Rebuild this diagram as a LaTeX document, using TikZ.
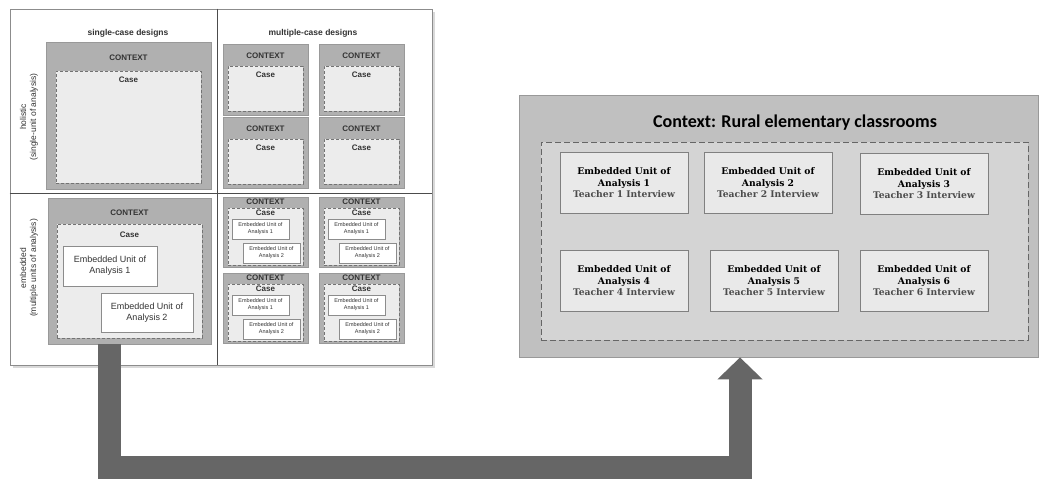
\documentclass[tikz,border=0pt]{standalone}
\usepackage{fontspec}
\setmainfont{Liberation Sans}
\newfontfamily\unitfont{DejaVu Serif}
\newfontfamily\titlefont{Carlito}
\usetikzlibrary{positioning,fit,shadows,arrows.meta}

\definecolor{ctxgray}{RGB}{176,176,176}
\definecolor{casegray}{RGB}{236,236,236}
\definecolor{outergray}{RGB}{192,192,192}
\definecolor{innergray}{RGB}{212,212,212}
\definecolor{unitgray}{RGB}{233,233,233}
\definecolor{arrowgray}{RGB}{102,102,102}

\tikzset{
  frame/.style={draw=black!45, fill=white, line width=0.8pt, inner sep=0pt,
    drop shadow={shadow xshift=3pt, shadow yshift=-3pt, opacity=0.3}},
  divider/.style={draw=black!70, line width=1pt},
  ctxbox/.style={draw=black!40, fill=ctxgray, line width=0.7pt, inner sep=0pt},
  casebox/.style={draw=black!55, fill=casegray, densely dashed, line width=0.7pt, inner sep=0pt},
  embbox/.style={draw=black!45, fill=white, line width=0.6pt, inner sep=0pt},
  headlbl/.style={font=\fontsize{8.5}{10}\selectfont\bfseries, text=black!80},
  ctxlbl/.style={font=\fontsize{8}{9}\selectfont\bfseries, text=black!80, inner sep=0pt},
  sidelbl/.style={font=\fontsize{8.5}{10}\selectfont, text=black!80, align=center, rotate=90},
  emblbl/.style={font=\fontsize{9}{11}\selectfont, text=black!80, align=center},
  tinylbl/.style={font=\fontsize{5.5}{7}\selectfont, text=black!80, align=center},
  rightctx/.style={draw=black!40, fill=outergray, line width=0.8pt, inner sep=0pt},
  rightcase/.style={draw=black!60, fill=innergray, dashed, dash pattern=on 6pt off 3pt, line width=1pt, inner sep=0pt},
  unit/.style={draw=black!50, fill=unitgray, line width=0.8pt, minimum width=128pt, minimum height=61pt,
    align=center, font=\unitfont\fontsize{9.2}{11.5}\selectfont\bfseries},
  bigarrow/.style={draw=arrowgray, line width=23pt, -{Triangle[width=44pt,length=22pt]}}
}

\begin{document}
\begin{tikzpicture}[x=1pt,y=-1pt]
  \useasboundingbox (0,0) rectangle (1040,479);

  %% Left: matrix of case study designs
  \node[frame, fit={(10,9)(432,365)}] (matrix) {};
  \coordinate (vsplit) at (217,193);
  \draw[divider] (matrix.north -| vsplit) -- (matrix.south -| vsplit);
  \draw[divider] (matrix.west |- vsplit) -- (matrix.east |- vsplit);
  \node[headlbl] (singlehd) at (128,33) {single-case designs};
  \node[headlbl] (multihd) at (313,33) {multiple-case designs};
  \node[sidelbl] (holist) at (29,117) {holistic\\(single-unit of analysis)};
  \node[sidelbl] (embed) at (29,268) {embedded\\(multiple units of analysis)};

  %% single-case, holistic
  \node[ctxbox, fit={(46,42)(211,189)}] (shctx) {};
  \node[ctxlbl, below=13pt of shctx.north] {CONTEXT};
  \node[casebox, fit={(56,71)(201,183)}] (shcase) {};
  \node[ctxlbl, below=6pt of shcase.north] {Case};

  %% single-case, embedded
  \node[ctxbox, fit={(48,198)(211,344)}] (sectx) {};
  \node[ctxlbl, below=12pt of sectx.north] {CONTEXT};
  \node[casebox, fit={(57,224)(202,338)}] (secase) {};
  \node[ctxlbl, below=8pt of secase.north] {Case};
  \node[embbox, fit={(63,246)(157,286)}] (seunita) {};
  \node[emblbl] at (seunita) {Embedded Unit of\\Analysis 1};
  \node[embbox, fit={(101,293)(193,332)}] (seunitb) {};
  \node[emblbl] at (seunitb) {Embedded Unit of\\Analysis 2};

  %% multiple-case, holistic
  \foreach \i/\x/\y in {1/223/44, 2/319/44, 3/223/117, 4/319/117}{
    \node[ctxbox, fit={(\x,\y)(\x+85,\y+71)}] (mhctx\i) {};
    \node[ctxlbl, below=9pt of mhctx\i.north] {CONTEXT};
    \node[casebox, fit={(\x+5,\y+22)(\x+80,\y+67)}] (mhcase\i) {};
    \node[ctxlbl, below=6pt of mhcase\i.north] {Case};
  }

  %% multiple-case, embedded
  \foreach \i/\x/\y in {1/223/197, 2/319/197, 3/223/273, 4/319/273}{
    \node[ctxbox, fit={(\x,\y)(\x+85,\y+70)}] (mectx\i) {};
    \node[ctxlbl, below=2pt of mectx\i.north] {CONTEXT};
    \node[casebox, fit={(\x+5,\y+11)(\x+80,\y+68)}] (mecase\i) {};
    \node[ctxlbl, below=2pt of mecase\i.north] {Case};
    \node[embbox, fit={(\x+9,\y+22)(\x+66,\y+42)}] (meunita\i) {};
    \node[tinylbl] at (meunita\i) {Embedded Unit of\\Analysis 1};
    \node[embbox, fit={(\x+20,\y+46)(\x+77,\y+66)}] (meunitb\i) {};
    \node[tinylbl] at (meunitb\i) {Embedded Unit of\\Analysis 2};
  }

  %% Right: the study itself
  \node[rightctx, fit={(519,95)(1038,357)}] (ctxr) {};
  \node[font=\titlefont\fontsize{18}{20}\selectfont\bfseries] (ctxtitle) at (795,123)
    {Context: Rural elementary classrooms};
  \node[rightcase, fit={(541,142)(1028,340)}] (caser) {};
  \foreach \n/\x/\y in {1/624/183, 2/768/183, 3/924/184, 4/624/281, 5/774/281, 6/924/281}{
    \node[unit] (unit\n) at (\x,\y)
      {Embedded Unit of\\Analysis \n\\\textcolor{black!70}{Teacher \n\ Interview}};
  }

  %% arrow from the embedded single-case design to the study
  \coordinate (bend) at (740,467);
  \draw[bigarrow] ([xshift=62pt]sectx.south west) |- (bend) -- (bend |- ctxr.south);
\end{tikzpicture}
\end{document}
